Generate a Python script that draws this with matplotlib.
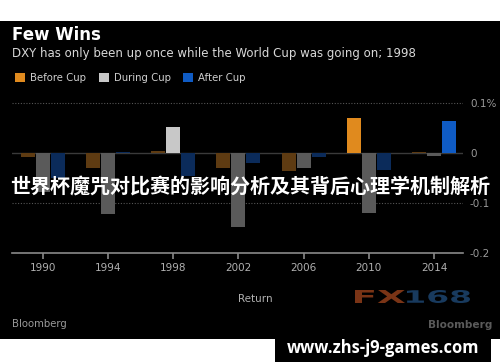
import matplotlib.pyplot as plt
import numpy as np
from matplotlib.patches import Patch, Rectangle, PathPatch
from matplotlib.textpath import TextPath
from matplotlib.font_manager import FontProperties
from matplotlib.transforms import Affine2D

plt.rcParams['font.family'] = ['DejaVu Sans']

years = [1990, 1994, 1998, 2002, 2006, 2010, 2014]
before_cup = [-0.007, -0.030, 0.005, -0.030, -0.035, 0.071, 0.002]
during_cup = [-0.078, -0.122, 0.053, -0.147, -0.029, -0.120, -0.005]
after_cup = [-0.050, 0.003, -0.045, -0.020, -0.007, -0.033, 0.065]

# one highlighted bar per series, the rest dimmed
before_hl = 2010
during_hl = 1998
after_hl = 2014

bright = ['#e08a1e', '#c8c8c8', '#0f5bc4']
dim = ['#5e3b12', '#5a5a5a', '#0b2b5a']

W, H = 500, 362
fig = plt.figure(figsize=(5.0, 3.62), dpi=100)
fig.patch.set_facecolor('white')
fig.patches.append(Rectangle((0, 23 / H), 1, 318 / H, transform=fig.transFigure,
                             facecolor='black', edgecolor='none', zorder=-5))

ax = fig.add_axes([12 / W, (H - 253) / H, 451 / W, 160 / H])
ax.set_facecolor('none')

x = np.array(years)
off, bw = 0.92, 0.86
series = [(before_cup, -off, before_hl), (during_cup, 0, during_hl), (after_cup, off, after_hl)]
for i, (vals, dx, hl) in enumerate(series):
    cols = [bright[i] if y == hl else dim[i] for y in years]
    ax.bar(x + dx, vals, width=bw, color=cols, zorder=3)

ax.set_xlim(1988.1, 2015.78)
ax.set_ylim(-0.2, 0.12)
ax.axhline(0, color='#3a3a3a', lw=1, zorder=2)
for yv in [0.1, -0.1]:
    ax.axhline(yv, color='#555555', lw=0.8, ls=(0, (1, 1.5)), zorder=1)

for s in ['top', 'left', 'right']:
    ax.spines[s].set_visible(False)
ax.spines['bottom'].set_color('#8a8a8a')
ax.spines['bottom'].set_linewidth(1.2)

ax.set_xticks(years)
ax.set_xticklabels([str(y) for y in years])
ax.tick_params(axis='x', colors='#8a8a8a', length=4, width=1.2, labelsize=7.5,
               labelcolor='#b0b0b0', pad=3)
ax.yaxis.tick_right()
ax.set_yticks([0.1, 0, -0.1, -0.2])
ax.set_yticklabels(['0.1%', '0', '-0.1', '-0.2'])
ax.tick_params(axis='y', length=0, labelsize=7.5, labelcolor='#9a9a9a', pad=5)

fig.text(12 / W, 1 - 35 / H, 'Few Wins', color='white', fontsize=12,
         fontweight='bold', va='center')
fig.text(12 / W, 1 - 54 / H, 'DXY has only been up once while the World Cup was going on; 1998',
         color='#d8d8d8', fontsize=8.5, va='center')

handles = [Patch(facecolor=c, edgecolor='none') for c in bright]
fig.legend(handles, ['Before Cup', 'During Cup', 'After Cup'], loc='center left',
           bbox_to_anchor=(6 / W, 1 - 78 / H), ncol=3, frameon=False, fontsize=7.3,
           labelcolor='#cfcfcf', handlelength=1.0, handleheight=1.0,
           handletextpad=0.5, columnspacing=1.2)

fig.text(255 / W, 1 - 299 / H, 'Return', color='#b0b0b0', fontsize=7.5,
         ha='center', va='center')
fig.text(12 / W, 1 - 324 / H, 'Bloomberg', color='#9a9a9a', fontsize=7.3, va='center')

# FX168 watermark, stretched wide
def wide_text(s, x0, y0, w, h, color):
    tp = TextPath((0, 0), s, size=10, prop=FontProperties(family='DejaVu Sans', weight='bold'))
    ext = tp.get_extents()
    tr = (Affine2D().translate(-ext.x0, -ext.y0)
          .scale(w / ext.width, h / ext.height).translate(x0, H - y0 - h))
    fig.patches.append(PathPatch(tr.transform_path(tp), transform=None,
                                 facecolor=color, edgecolor='none', zorder=-1))

dpi_scale = fig.dpi / 100
wide_text('FX', 355, 290, 50, 13, '#7a3416')
wide_text('168', 407, 290, 63, 13, '#183a5e')
fig.text(492 / W, 1 - 325 / H, 'Bloomberg', color='#5a5a5a', fontsize=7.6, fontweight='bold',
         va='center', ha='right')

fig.text(250 / W, 1 - 186 / H, '世界杯魔咒对比赛的影响分析及其背后心理学机制解析',
         family=['Noto Sans CJK SC', 'DejaVu Sans'], fontweight='bold', fontsize=14.45,
         color='white', ha='center', va='center')

fig.patches.append(Rectangle((275 / W, 0), 216 / W, 24 / H, transform=fig.transFigure,
                             facecolor='black', edgecolor='none', zorder=-5))
fig.text(383 / W, 1 - 348 / H, 'www.zhs-j9-games.com', color='white', fontsize=11.9,
         fontweight='bold', family=['Open Sans', 'DejaVu Sans'], ha='center', va='center')

fig.savefig('out.png', dpi=100)
